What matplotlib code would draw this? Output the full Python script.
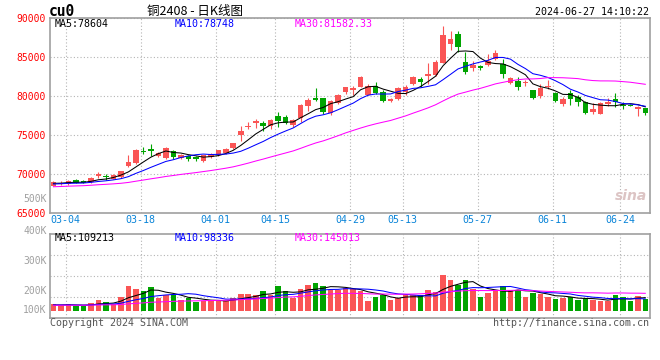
import numpy as np
import pandas as pd
import matplotlib
matplotlib.use('Agg')
import matplotlib.pyplot as plt

# trading days shown (SHFE, 2024-02-29 .. 2024-06-27)
holidays = ['2024-04-04', '2024-04-05', '2024-05-01', '2024-05-02', '2024-05-03', '2024-06-10']
days = pd.bdate_range('2024-02-29', '2024-06-27')
days = days[~days.isin(pd.to_datetime(holidays))]
dates = [d.strftime('%m-%d') for d in days]
tick_dates = ['03-04', '03-18', '04-01', '04-15', '04-29', '05-13', '05-27', '06-11', '06-24']

# daily K data
opens = [68500, 68750, 68720, 69230, 69100, 68970, 69800, 69700, 69400, 69600,
         71030, 71410, 73000, 73170, 72350, 72090, 72950, 72090, 72260, 72200,
         71700, 72140, 72435, 72650, 73290, 75000, 76050, 76580, 76580, 76190,
         77435, 77270, 76320, 77220, 78720, 79780, 79740, 77780, 79140, 80550,
         80800, 81240, 80170, 81330, 80510, 79360, 79580, 80510, 81550, 82220,
         82610, 82700, 84320, 86680, 87950, 84450, 83660, 83850, 83940, 84830,
         84190, 81700, 82010, 81700, 80730, 79960, 81160, 80380, 79020, 80380,
         79870, 79310, 77990, 77770, 79060, 79700, 78900, 78930, 78290, 78500]
highs = [69050, 69100, 69250, 69400, 69200, 69600, 70250, 70000, 70000, 70450,
         72440, 73200, 73430, 73880, 72800, 73450, 73100, 72600, 72500, 72350,
         72500, 72650, 73150, 73350, 74050, 76200, 76700, 77050, 76800, 77050,
         77950, 77560, 77050, 78970, 79780, 81060, 79780, 79490, 80290, 81200,
         81330, 82610, 81620, 81850, 80730, 79780, 81160, 81420, 82610, 82480,
         84320, 84620, 88970, 88390, 88390, 85610, 84510, 84060, 85440, 85900,
         84830, 82440, 82440, 82140, 80810, 81510, 82140, 80510, 79870, 80810,
         80170, 79400, 79140, 79270, 79830, 80470, 79190, 79050, 78720, 78500]
lows = [68450, 68650, 68650, 68800, 68800, 68900, 69490, 69300, 69350, 69550,
        70900, 71300, 72560, 72350, 72250, 71950, 71950, 71950, 71650, 71700,
        71600, 72000, 72350, 72550, 73200, 74300, 75730, 75860, 75550, 75750,
        76060, 76400, 76060, 76700, 78110, 79400, 77690, 77610, 79060, 80300,
        80160, 81200, 80090, 80340, 79230, 79230, 79450, 80200, 81420, 81160,
        81550, 82610, 84200, 85900, 85610, 82830, 83230, 83420, 83850, 84620,
        82330, 81600, 80810, 81280, 79580, 79740, 80940, 79230, 78720, 78890,
        78720, 77730, 77730, 77730, 78680, 78630, 78330, 78700, 77440, 77560]
closes = [68970, 68900, 69140, 68880, 68850, 69525, 69950, 69600, 69870, 70380,
          71580, 73120, 72800, 72950, 72650, 73290, 72180, 72430, 71920, 71900,
          72430, 72520, 73080, 73245, 73975, 75550, 76150, 76830, 76190, 76920,
          76830, 76580, 76920, 78930, 79450, 79490, 77950, 79400, 80170, 81150,
          81000, 82400, 81330, 80470, 79360, 79650, 81030, 81160, 82480, 81880,
          82820, 84450, 87870, 87320, 86320, 83070, 84060, 83640, 84580, 85600,
          82820, 82310, 81150, 81880, 79740, 81030, 81290, 79440, 79660, 79660,
          79230, 77900, 78330, 79140, 79310, 79190, 78800, 78760, 78550, 77860]
# volume, thousand lots
volumes = [57, 46, 57, 37, 37, 65, 91, 74, 57, 119,
           210, 184, 165, 201, 108, 131, 131, 91, 108, 74,
           85, 91, 80, 85, 108, 142, 142, 131, 167, 131,
           210, 167, 108, 184, 218, 235, 210, 176, 176, 193,
           187, 165, 82, 119, 131, 91, 108, 131, 131, 131,
           176, 159, 306, 261, 221, 261, 187, 119, 153, 165,
           210, 176, 176, 119, 153, 142, 119, 102, 105, 119,
           90, 105, 95, 80, 80, 131, 119, 85, 122, 97]

# estimated sessions before the window, only used to start the moving averages
prior_close = [67900, 67850, 67950, 68000, 67800, 67900, 68050, 68100, 68200, 68300,
               68400, 68300, 68250, 68350, 68500, 68450, 68300, 68400, 68450, 68450,
               68550, 68600, 68700, 68650, 68650, 68800, 68750, 68700, 68830]
prior_volume = [38, 41, 44, 40, 43, 46, 45, 42, 47, 44, 48, 45, 43, 47, 49,
                46, 44, 50, 48, 45, 47, 49, 46, 48, 50, 47, 45, 49, 46]

RED = '#fa5555'
GREEN = '#00a400'
GRID = '#b4b4b4'
FRAME = '#a0a0a0'
MONO = 'DejaVu Sans Mono'
ma_colors = {5: 'black', 10: '#0000ff', 30: '#ff00ff'}

o, h, l, c = map(np.array, (opens, highs, lows, closes))
v = np.array(volumes) * 1000
x = np.arange(len(c))
col = np.where(c >= o, RED, GREEN)

def moving(prior, values, n):
    s = pd.Series(list(prior) + list(values), dtype=float)
    return s.rolling(n).mean().to_numpy()[len(prior):]

W, H = 660, 360
def box(x0, y0, x1, y1):
    return [x0 / W, 1 - y1 / H, (x1 - x0) / W, (y1 - y0) / H]

fig = plt.figure(figsize=(6.6, 3.6), dpi=100)
ax = fig.add_axes(box(50, 18.3, 650, 213))
axv = fig.add_axes(box(50, 234.3, 650, 318.3))

# candles
bw = 0.74
ax.vlines(x + bw / 2, l, h, colors=col, lw=0.8, zorder=2)
ax.bar(x, np.maximum(np.abs(c - o), 60), bottom=np.minimum(o, c), width=bw,
       align='edge', color=col, lw=0, zorder=2)
for n in (5, 10, 30):
    ax.plot(x + bw / 2, moving(prior_close, c, n), color=ma_colors[n], lw=0.75, zorder=3)

# volume
axv.bar(x, v, width=bw, align='edge', color=col, lw=0, zorder=2)
for n in (5, 10, 30):
    axv.plot(x + bw / 2, moving(np.array(prior_volume) * 1000, v, n),
             color=ma_colors[n], lw=0.75, zorder=3)

ticks = [dates.index(d) for d in tick_dates]
for a in (ax, axv):
    a.set_xlim(-0.093, 80.0)
    a.set_xticks(ticks)
    a.grid(True, color=GRID, ls=(0, (1, 2)), lw=0.8)
    a.set_axisbelow(True)
    for s in a.spines.values():
        s.set_color(FRAME)
        s.set_linewidth(1.2)
    a.tick_params(length=0)

ax.set_ylim(65000, 90000)
ax.set_yticks(range(65000, 90001, 5000))
ax.set_yticklabels([str(t) for t in range(65000, 90001, 5000)], color='red',
                   family=MONO, fontsize=7)
ax.tick_params(axis='y', pad=3)
ax.set_xticklabels(tick_dates, color='#0a84d8', family=MONO, fontsize=7.2)
ax.tick_params(axis='x', pad=1.2)

vlo, vhi = -64600, 649400
axv.set_ylim(vlo, vhi)
axv.set_yticks([vlo + (vhi - vlo) * k / 4 for k in (1, 2, 3)])
axv.set_yticklabels([])
axv.set_xticklabels([])

# moving average readouts
ma_txt = [('MA5:78604', 5), ('MA10:78748', 10), ('MA30:81582.33', 30)]
vma_txt = [('MA5:109213', 5), ('MA10:98336', 10), ('MA30:145013', 30)]
for (t, n), xp in zip(ma_txt, (54.3, 174.3, 294.7)):
    ax.text((xp - 50) / 600, 0.971, t, transform=ax.transAxes, color=ma_colors[n],
            family=MONO, fontsize=7.2, va='center')
for (t, n), xp in zip(vma_txt, (54.3, 174.3, 294.7)):
    axv.text((xp - 50) / 600, 0.952, t, transform=axv.transAxes, color=ma_colors[n],
             family=MONO, fontsize=7.2, va='center')

# volume scale labels as the source draws them
for t, yp in [('500K', 199.3), ('400K', 230.7), ('300K', 261), ('200K', 290.7), ('100K', 310)]:
    fig.text(46.5 / W, 1 - yp / H, t, color='#a0a0a0', family=MONO, fontsize=7,
             ha='right', va='center')

# header
fig.text(49 / W, 1 - 11 / H, 'cu0', family=MONO, weight='bold', fontsize=10.5, va='center')
fig.text(195 / W, 1 - 11 / H, '铜2408 - 日K线图', family=['Noto Sans CJK SC', 'DejaVu Sans'],
         fontsize=9, ha='center', va='center')
fig.text(649 / W, 1 - 12 / H, '2024-06-27 14:10:22', family=MONO, fontsize=7.2,
         ha='right', va='center')

# footer
fig.text(50 / W, 1 - 323.5 / H, 'Copyright 2024 SINA.COM', family=MONO, fontsize=7.2,
         color='#555555', va='center')
fig.text(649 / W, 1 - 323.5 / H, 'http://finance.sina.com.cn', family=MONO, fontsize=7.2,
         color='#555555', ha='right', va='center')

# watermark
ax.text(0.995, 0.05, 'sina', transform=ax.transAxes, color='#dcc4c4', style='italic',
        weight='bold', fontsize=10, ha='right', va='bottom', zorder=1)

fig.savefig('out.png', dpi=100, facecolor='white')
